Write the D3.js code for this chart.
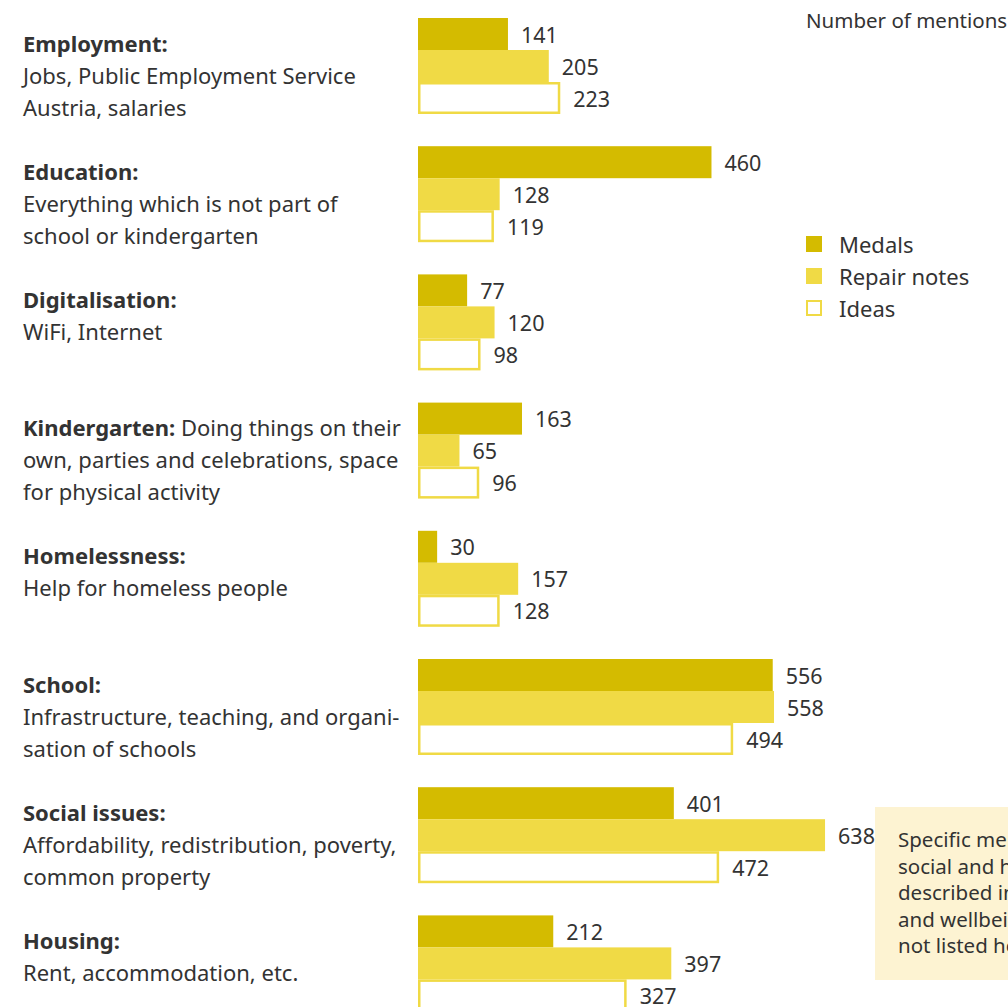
<!DOCTYPE html>
<html>
<head>
  <meta charset="UTF-8">
  <title>Number of mentions</title>
  <script src="https://cdnjs.cloudflare.com/ajax/libs/d3/7.8.5/d3.min.js"></script>
  <style type="text/css">
    body { margin: 0; background: #fff; }
    svg { display: block; font-family: "Noto Sans", "Open Sans", sans-serif; }
  </style>
</head>
<body>
  <script type="text/javascript">

    // categories: bold title + description lines
    var titles = ["Employment:", "Education:", "Digitalisation:", "Kindergarten:",
                  "Homelessness:", "School:", "Social issues:", "Housing:"];
    var descriptions = [
      ["", "Jobs, Public Employment Service", "Austria, salaries"],
      ["", "Everything which is not part of", "school or kindergarten"],
      ["", "WiFi, Internet"],
      [" Doing things on their", "own, parties and celebrations, space", "for physical activity"],
      ["", "Help for homeless people"],
      ["", "Infrastructure, teaching, and organi-", "sation of schools"],
      ["", "Affordability, redistribution, poverty,", "common property"],
      ["", "Rent, accommodation, etc."]
    ];

    // series values
    var medals  = [141, 460, 77, 163, 30, 556, 401, 212];
    var repairs = [205, 128, 120, 65, 157, 558, 638, 397];
    var ideas   = [223, 119, 98, 96, 128, 494, 472, 327];

    var seriesNames = ["Medals", "Repair notes", "Ideas"];
    var noteLines = ["Specific mentions of", "social and health issues", "described in the chapter", "and wellbeing are", "not listed here."];

    var width = 1008, height = 1007;
    var colMedal = "#d4bb00", colRepair = "#f0da45", textCol = "#333333";

    var svg = d3.select("body").append("svg")
        .attr("width", width)
        .attr("height", height);

    //scales
    var x = d3.scaleLinear().domain([0, 1000]).range([418, 418 + 638]);
    var yGroup = d3.scaleBand().domain(d3.range(titles.length)).range([18, 18 + 128.2 * 8]).paddingInner(0).paddingOuter(0);
    var barH = 32;

    var series = [medals, repairs, ideas];

    var groups = svg.selectAll("g.group")
        .data(titles)
        .enter().append("g")
          .attr("class", "group")
          .attr("transform", function (d, i) { return "translate(0," + yGroup(i) + ")"; });

    // left labels
    groups.each(function (t, i) {
      var g = d3.select(this);
      descriptions[i].forEach(function (line, j) {
        var txt = g.append("text")
            .attr("x", 23)
            .attr("y", 26 + j * 32)
            .attr("dy", "0.35em")
            .style("font-size", "22px")
            .attr("fill", textCol);
        if (j === 0) {
          txt.append("tspan").attr("font-weight", "bold").text(t);
          if (line) txt.append("tspan").text(line);
        } else {
          txt.text(line);
        }
      });
    });

    // bars
    series.forEach(function (vals, s) {
      groups.append("rect")
          .attr("x", function (d, i) { return s === 2 ? x(0) + 1.25 : x(0); })
          .attr("y", function () { return s * barH + (s === 2 ? 1.25 : 0); })
          .attr("width", function (d, i) { return x(vals[i]) - x(0) - (s === 2 ? 2.5 : 0); })
          .attr("height", s === 2 ? barH - 2.5 : barH)
          .attr("fill", s === 0 ? colMedal : (s === 1 ? colRepair : "#fff"))
          .attr("stroke", s === 2 ? colRepair : "none")
          .attr("stroke-width", 2.5);

      groups.append("text")
          .attr("x", function (d, i) { return x(vals[i]) + 13; })
          .attr("y", s * barH + barH / 2 + 1)
          .attr("dy", "0.35em")
          .style("font-size", "21.5px")
          .attr("fill", textCol)
          .text(function (d, i) { return vals[i]; });
    });

    // top-right caption
    svg.append("text")
        .attr("x", 806)
        .attr("y", 21)
        .attr("dy", "0.35em")
        .style("font-size", "20.5px")
        .attr("fill", textCol)
        .text("Number of mentions");

    // legend
    var legend = svg.selectAll("g.legend")
        .data(seriesNames)
        .enter().append("g")
          .attr("class", "legend")
          .attr("transform", function (d, i) { return "translate(806," + (236 + i * 32) + ")"; });

    legend.append("rect")
        .attr("x", function (d, i) { return i === 2 ? 1 : 0; })
        .attr("y", function (d, i) { return i === 2 ? 1 : 0; })
        .attr("width", function (d, i) { return i === 2 ? 14 : 16; })
        .attr("height", function (d, i) { return i === 2 ? 14 : 16; })
        .attr("fill", function (d, i) { return i === 0 ? colMedal : (i === 1 ? colRepair : "#fff"); })
        .attr("stroke", function (d, i) { return i === 2 ? colRepair : "none"; })
        .attr("stroke-width", 2);

    legend.append("text")
        .attr("x", 33)
        .attr("y", 9)
        .attr("dy", "0.35em")
        .style("font-size", "22px")
        .attr("fill", textCol)
        .text(function (d) { return d; });

    // note box
    svg.append("rect")
        .attr("x", 875)
        .attr("y", 807)
        .attr("width", 200)
        .attr("height", 173)
        .attr("fill", "#fdf3d2");

    svg.selectAll("text.note")
        .data(noteLines)
        .enter().append("text")
          .attr("class", "note")
          .attr("x", 898)
          .attr("y", function (d, i) { return 840 + i * 26.5; })
          .attr("dy", "0.35em")
          .style("font-size", "20.5px")
          .attr("fill", textCol)
          .text(function (d) { return d; });

  </script>
</body>
</html>
